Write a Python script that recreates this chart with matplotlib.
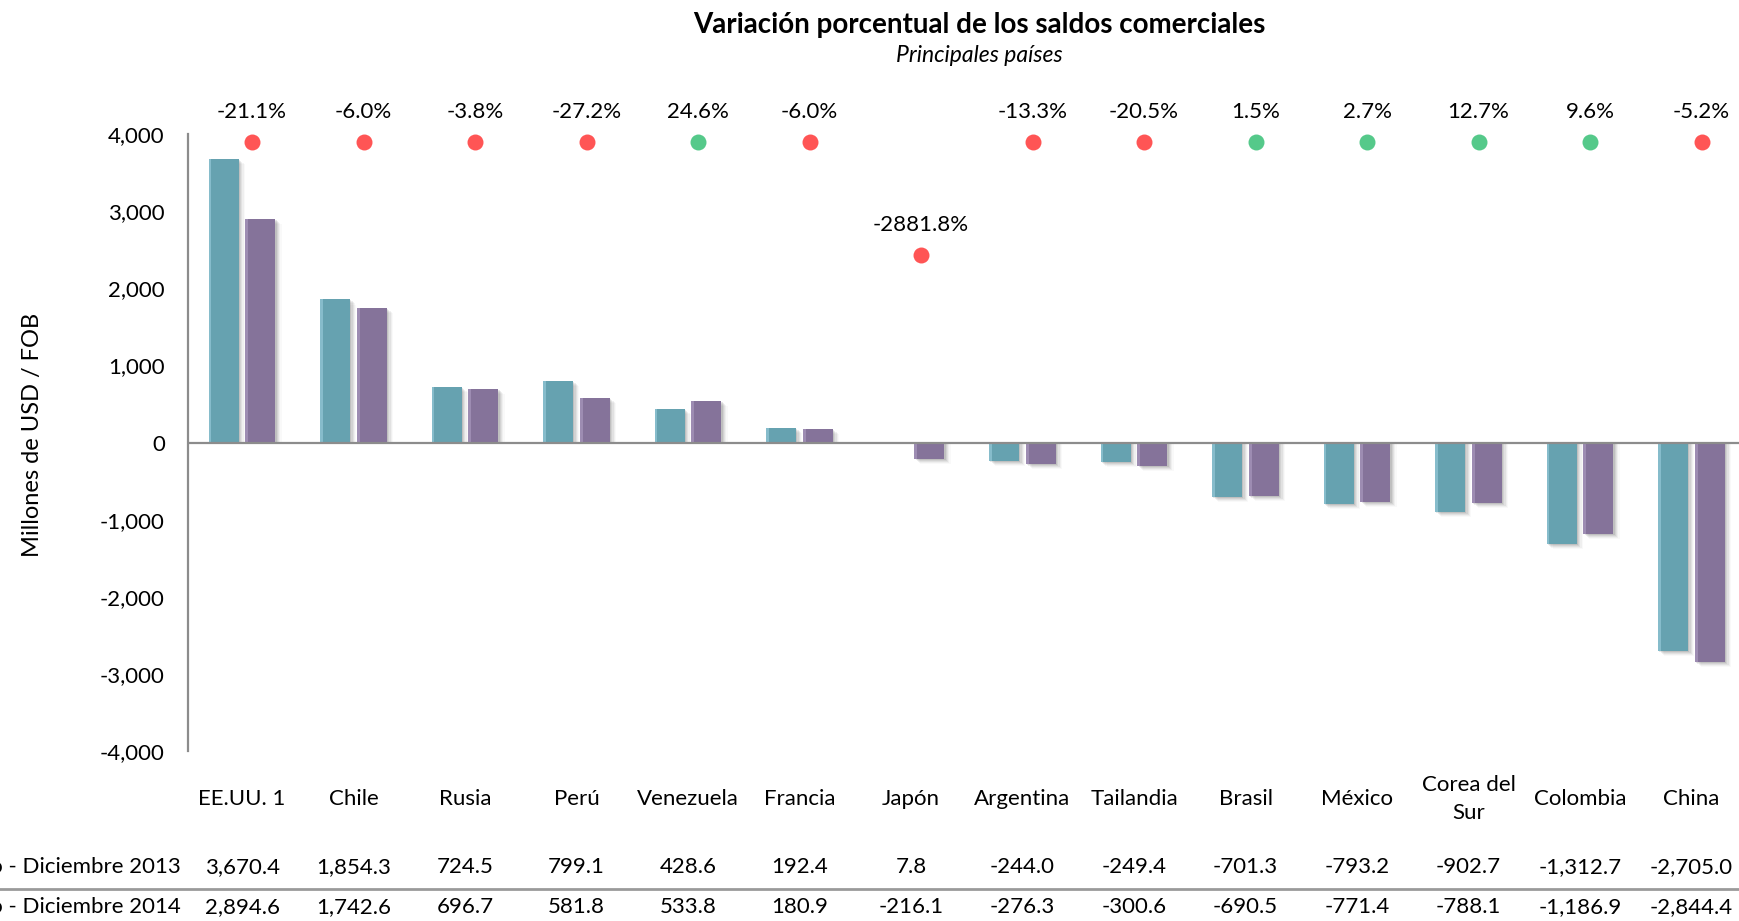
import matplotlib.pyplot as plt
import matplotlib.transforms as mtrans
from matplotlib.patches import Rectangle

# Data
countries = ['EE.UU. 1', 'Chile', 'Rusia', 'Perú', 'Venezuela', 'Francia', 'Japón',
             'Argentina', 'Tailandia', 'Brasil', 'México', 'Corea del\nSur', 'Colombia', 'China']
saldo_2013 = [3670.4, 1854.3, 724.5, 799.1, 428.6, 192.4, 7.8,
              -244.0, -249.4, -701.3, -793.2, -902.7, -1312.7, -2705.0]
saldo_2014 = [2894.6, 1742.6, 696.7, 581.8, 533.8, 180.9, -216.1,
              -276.3, -300.6, -690.5, -771.4, -788.1, -1186.9, -2844.4]
variacion = [-21.1, -6.0, -3.8, -27.2, 24.6, -6.0, -2881.8,
             -13.3, -20.5, 1.5, 2.7, 12.7, 9.6, -5.2]
# height at which each variation marker sits
marker_level = [3890, 3890, 3890, 3890, 3890, 3890, 2425,
                3890, 3890, 3890, 3890, 3890, 3890, 3890]
row_labels = ['Enero - Diciembre 2013', 'Enero - Diciembre 2014']
yticks = [-4000, -3000, -2000, -1000, 0, 1000, 2000, 3000, 4000]

plt.rcParams['font.family'] = ['Lato', 'DejaVu Sans']
FS = 16

TEAL = '#66a2b0'
TEAL_LIGHT = '#86bccb'
PURPLE = '#85739a'
PURPLE_LIGHT = '#9d8cb2'
RED = '#ff5555'
GREEN = '#55c98a'

W, H = 1740, 921
fig = plt.figure(figsize=(W / 100, H / 100), dpi=100)
ax = fig.add_axes([188.5 / W, 1 - 751 / H, 1561 / W, 617 / H])
ax.set_xlim(-0.48, 13.52)
ax.set_ylim(-4000, 4000)

bw = 0.27
off = 0.165


def draw_bars(xs, vals, color, light):
    for x, v in zip(xs, vals):
        # soft shadow to the right / bottom
        for k, a in enumerate([0.12, 0.09, 0.07, 0.05, 0.03]):
            dx = 0.011 * (k + 1)
            dy = 13 * (k + 1)
            if v >= 0:
                ax.add_patch(Rectangle((x - bw / 2 + dx, 0), bw, max(v - dy, 0),
                                       color='#404040', alpha=a, lw=0, zorder=1))
            else:
                ax.add_patch(Rectangle((x - bw / 2 + dx, v - dy), bw, -v + dy,
                                       color='#404040', alpha=a, lw=0, zorder=1))
        ax.bar(x, v, width=bw, color=color, zorder=2, linewidth=0)
        ax.bar(x - bw / 2 + 0.012, v, width=0.024, color=light, zorder=2.1, linewidth=0)


n = len(countries)
xs = list(range(n))
draw_bars([x - off for x in xs], saldo_2013, TEAL, TEAL_LIGHT)
draw_bars([x + off for x in xs], saldo_2014, PURPLE, PURPLE_LIGHT)

# zero line
ax.axhline(0, color='#8c8c8c', lw=1.6, zorder=3)

# variation markers and labels
for x, v, lvl in zip(xs, variacion, marker_level):
    c = GREEN if v >= 0 else RED
    ax.plot(x + 0.09, lvl, 'o', ms=11.5, color=c, mec='none', zorder=4, clip_on=False)
    ax.annotate(f'{v:.1f}%', (x + 0.09, lvl), xytext=(0, 15), textcoords='offset points',
                ha='center', va='bottom', fontsize=FS, annotation_clip=False)

# axes styling
for s in ['top', 'right', 'bottom']:
    ax.spines[s].set_visible(False)
ax.spines['left'].set_color('#8c8c8c')
ax.spines['left'].set_linewidth(1.6)
ax.set_xticks([])
ax.set_yticks(yticks)
ax.set_yticklabels([f'{t:,}' for t in yticks], fontsize=FS)
ax.tick_params(axis='y', length=0, pad=17)
ax.set_ylabel('Millones de USD / FOB', fontsize=17)
ax.yaxis.set_label_coords(-(189 - 44) / 1561, 0.513)

# category names and table under the chart
blend = mtrans.blended_transform_factory(ax.transData, fig.transFigure)
for x, name in zip(xs, countries):
    ax.text(x, 1 - 799 / H, name, transform=blend,
            ha='center', va='center', fontsize=FS, linespacing=1.45)

row_y = [1 - 867 / H, 1 - 907 / H]
for ry, lab, vals in zip(row_y, row_labels, [saldo_2013, saldo_2014]):
    fig.text(181 / W, ry, lab, ha='right', va='center', fontsize=FS)
    for x, v in zip(xs, vals):
        ax.text(x, ry, f'{v:,.1f}', transform=blend, ha='center', va='center', fontsize=FS)

fig.add_artist(plt.Line2D([0, 1], [1 - 889 / H, 1 - 889 / H], color='#9a9a9a', lw=2))

# titles
fig.text(979 / W, 1 - 25 / H, 'Variación porcentual de los saldos comerciales',
         ha='center', va='center', fontsize=20, fontweight='bold')
fig.text(979 / W, 1 - 55 / H, 'Principales países', ha='center', va='center',
         fontsize=16.5, style='italic')

fig.savefig('out.png', dpi=100)
